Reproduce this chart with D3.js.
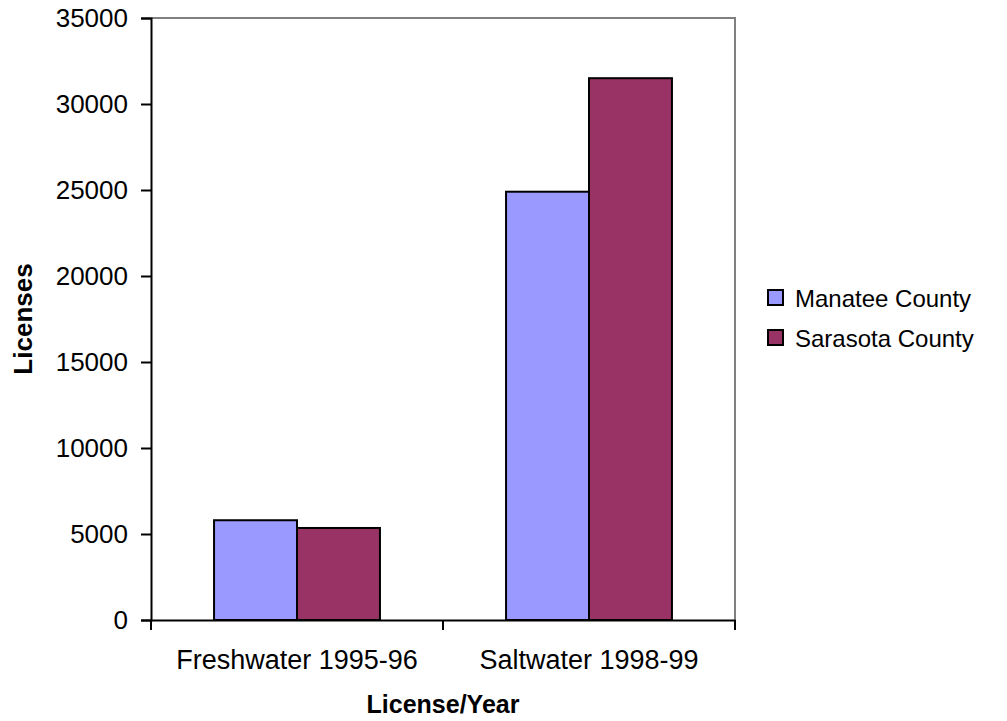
<!DOCTYPE html>
<html><head><meta charset="utf-8">
<script src="https://cdn.jsdelivr.net/npm/d3@7"></script>
<style>body{margin:0;background:#fff}svg{display:block}text{font-family:"Liberation Sans",Arial,sans-serif;fill:#000}</style>
</head><body><svg id="c" width="1007" height="721"></svg>
<script>
const categories = ["Freshwater 1995-96", "Saltwater 1998-99"];
const seriesNames = ["Manatee County", "Sarasota County"];
const manatee = [5800, 24900];
const sarasota = [5350, 31500];
const yTicks = [0, 5000, 10000, 15000, 20000, 25000, 30000, 35000];
const colors = ["#9999ff", "#993366"];

const svg = d3.select("#c");
const L = 151, R = 735, T = 18, B = 620;
const FS = "26px";
const x = d3.scaleBand().domain(categories).range([L, R]).paddingInner(0).paddingOuter(0);
const y = d3.scaleLinear().domain([0, 35000]).range([B, T]);
const inner = d3.scaleBand().domain(seriesNames).range([0, x.bandwidth()]).paddingInner(0).paddingOuter(0.76);

svg.append("path").attr("d", `M${L},${T}H${R}V${B}`).attr("fill","none").attr("stroke","#808080").attr("stroke-width",2);

const data = seriesNames.map((s,i)=>({name:s, values:(i===0?manatee:sarasota), color:colors[i]}));
data.forEach(s=>{
  svg.append("g").selectAll("rect").data(categories).join("rect")
    .attr("x", c=>x(c)+inner(s.name))
    .attr("y", (c,j)=>y(s.values[j]))
    .attr("width", inner.bandwidth())
    .attr("height", (c,j)=>B-y(s.values[j]))
    .attr("fill", s.color).attr("stroke","#000").attr("stroke-width",2);
});

const yAxis = d3.axisLeft(y).tickValues(yTicks).tickFormat(d3.format("d")).tickSizeOuter(0).tickSize(10).tickPadding(13);
const gy = svg.append("g").attr("transform",`translate(${L},0)`).call(yAxis);
gy.selectAll("path,line").attr("stroke","#000").attr("stroke-width",2);
gy.selectAll("text").style("font-size",FS);

const xAxis = d3.axisBottom(x).tickSize(0).tickSizeOuter(0).tickPadding(30);
const gx = svg.append("g").attr("transform",`translate(0,${B})`).call(xAxis);
gx.select("path").attr("stroke","#000").attr("stroke-width",2);
gx.selectAll("text").style("font-size","27px");
const edges = [L, ...categories.map(c=>x(c)+x.bandwidth())];
gx.selectAll("line.sep").data(edges).join("line").attr("class","sep")
  .attr("x1",d=>d).attr("x2",d=>d).attr("y1",0).attr("y2",10).attr("stroke","#000").attr("stroke-width",2);

svg.append("text").attr("transform",`translate(32,${(T+B)/2}) rotate(-90)`).attr("text-anchor","middle")
  .style("font-size",FS).style("font-weight","bold").text("Licenses");
svg.append("text").attr("x",(L+R)/2).attr("y",713).attr("text-anchor","middle")
  .style("font-size","25px").style("font-weight","bold").text("License/Year");

const lg = svg.append("g").attr("transform","translate(768,290)");
data.forEach((s,i)=>{
  const g = lg.append("g").attr("transform",`translate(0,${i*40})`);
  g.append("rect").attr("x",0).attr("y",0).attr("width",15).attr("height",15).attr("fill",s.color).attr("stroke","#000").attr("stroke-width",2);
  g.append("text").attr("x",27).attr("y",17).style("font-size","24px").text(s.name);
});
</script></body></html>
